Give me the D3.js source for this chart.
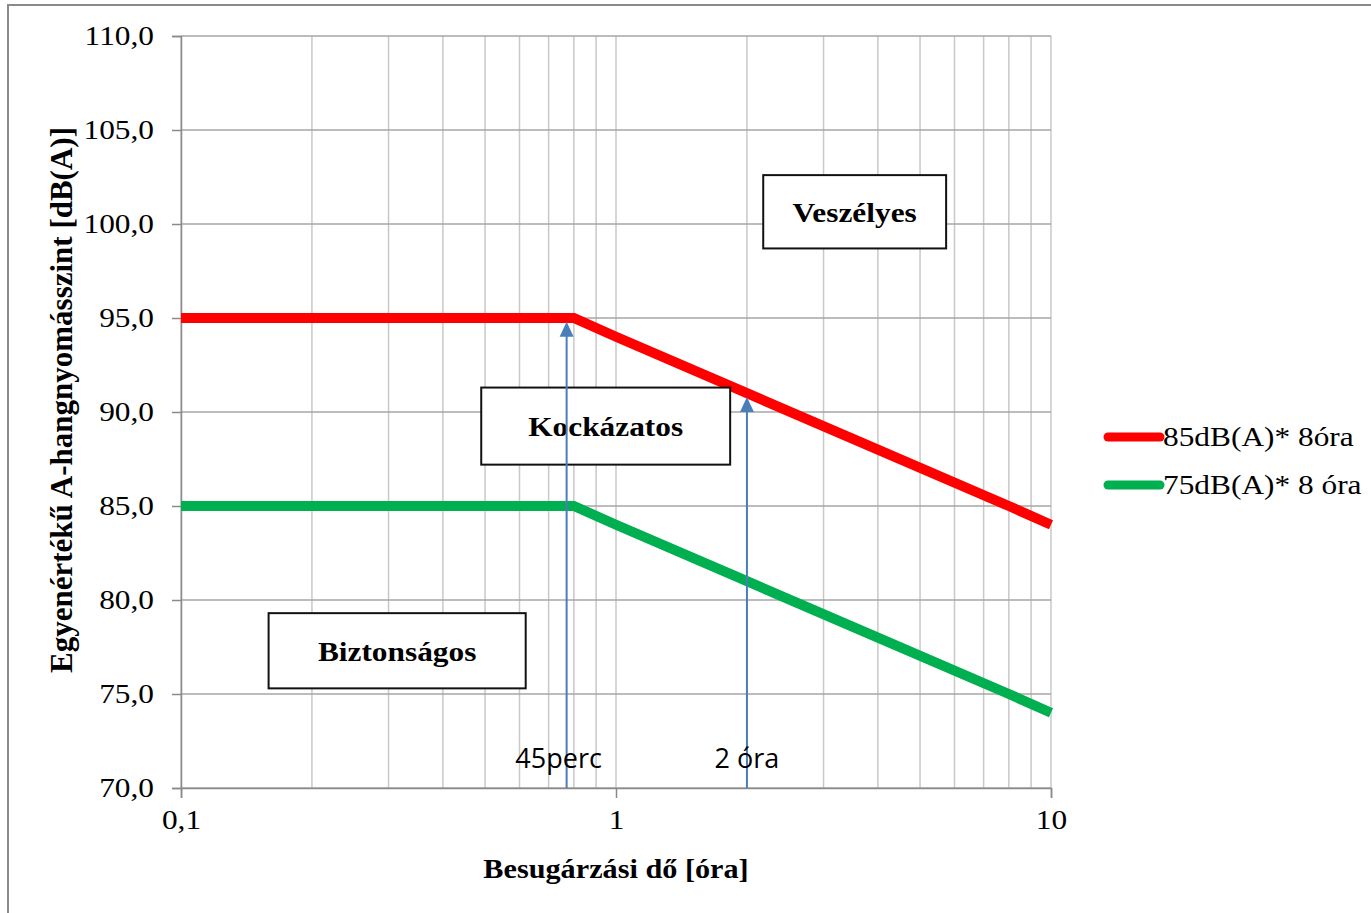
<!DOCTYPE html>
<html>
<head>
<meta charset="utf-8">
<script src="https://cdn.jsdelivr.net/npm/d3@7"></script>
<style>
  body { margin: 0; background: #fff; }
  svg { display: block; }
</style>
</head>
<body>
<div id="chart"></div>
<script>
// exposure time [hours] and equivalent level [dB(A)]
const hours = [0.1, 0.8, 1, 2, 4, 8, 10];
const level85 = [95, 95, 94, 91, 88, 85, 84];
const level75 = [85, 85, 84, 81, 78, 75, 74];
const seriesNames = ['85dB(A)* 8óra', '75dB(A)* 8 óra'];
const seriesColors = ['#ff0000', '#00b050'];

const yTicks = [70, 75, 80, 85, 90, 95, 100, 105, 110];
const xTicks = [0.1, 1, 10];
const xTickLabels = ['0,1', '1', '10'];

// marked exposure times
const markHours = [0.77, 2];
const markTops = [94.8, 90.8];
const markLabels = ['45perc', '2 óra'];

// zone labels (box corners in data units)
const zoneNames = ['Veszélyes', 'Kockázatos', 'Biztonságos'];
const zoneX0 = [2.18, 0.49, 0.159];
const zoneX1 = [5.74, 1.83, 0.62];
const zoneYTop = [102.6, 91.3, 79.3];
const zoneYBottom = [98.7, 87.2, 75.3];

const W = 1371, H = 913;
const margin = { top: 36, right: 320, bottom: 125, left: 181 };
const width = W - margin.left - margin.right;
const height = H - margin.top - margin.bottom;
const serif = '"Liberation Serif", "Times New Roman", serif';
const sx = 1.12; // source text looks slightly stretched horizontally

const svg = d3.select('#chart').append('svg')
    .attr('width', W)
    .attr('height', H);

// outer frame
svg.append('rect')
    .attr('x', 8).attr('y', 5)
    .attr('width', W + 20).attr('height', H + 20)
    .attr('fill', 'none')
    .attr('stroke', '#8a8a8a')
    .attr('stroke-width', 2);

const g = svg.append('g')
    .attr('transform', `translate(${margin.left},${margin.top})`);

const x = d3.scaleLog().domain([0.1, 10]).range([0, width]);
const y = d3.scaleLinear().domain([70, 110]).range([height, 0]);

// vertical grid (every 1..9 per decade)
const minor = [];
[0.1, 1].forEach(d => { for (let i = 1; i <= 9; i++) minor.push(d * i); });
minor.push(10);
g.append('g').selectAll('line').data(minor).join('line')
    .attr('x1', d => x(d)).attr('x2', d => x(d))
    .attr('y1', 0).attr('y2', height)
    .attr('stroke', '#c8c8c8')
    .attr('stroke-width', 1.5);

// horizontal grid
g.append('g').selectAll('line').data(yTicks).join('line')
    .attr('x1', 0).attr('x2', width)
    .attr('y1', d => y(d)).attr('y2', d => y(d))
    .attr('stroke', '#a6a6a6')
    .attr('stroke-width', 1.5);

// y axis
const yAxis = g.append('g')
    .call(d3.axisLeft(y).tickValues(yTicks).tickSize(9).tickPadding(10)
        .tickFormat(d => d3.format('.1f')(d).replace('.', ',')));
yAxis.select('.domain').attr('stroke', '#8a8a8a').attr('stroke-width', 1.5);
yAxis.selectAll('.tick line').attr('stroke', '#8a8a8a').attr('stroke-width', 1.5);
yAxis.selectAll('.tick text')
    .attr('font-family', serif)
    .attr('font-size', 28)
    .attr('fill', '#000')
    .attr('transform', `scale(${sx},1)`)
    .attr('x', -27 / sx);

// x axis
const xAxis = g.append('g')
    .attr('transform', `translate(0,${height})`)
    .call(d3.axisBottom(x).tickValues(xTicks).tickSize(10).tickPadding(11)
        .tickFormat((d, i) => xTickLabels[i]));
xAxis.select('.domain').attr('stroke', '#8a8a8a').attr('stroke-width', 1.5);
xAxis.selectAll('.tick line').attr('stroke', '#8a8a8a').attr('stroke-width', 1.5);
xAxis.selectAll('.tick text')
    .attr('font-family', serif)
    .attr('font-size', 28)
    .attr('fill', '#000')
    .attr('transform', `scale(${sx},1)`);

// series lines
const line = d3.line().x(d => x(d[0])).y(d => y(d[1]));
[level85, level75].forEach((vals, i) => {
    g.append('path')
        .datum(hours.map((h, j) => [h, vals[j]]))
        .attr('d', line)
        .attr('fill', 'none')
        .attr('stroke', seriesColors[i])
        .attr('stroke-width', 10);
});

// zone boxes
zoneNames.forEach((name, i) => {
    const bx = x(zoneX0[i]), bw = x(zoneX1[i]) - bx;
    const by = y(zoneYTop[i]), bh = y(zoneYBottom[i]) - by;
    g.append('rect')
        .attr('x', bx).attr('y', by)
        .attr('width', bw).attr('height', bh)
        .attr('fill', '#fff')
        .attr('stroke', '#111')
        .attr('stroke-width', 2);
    g.append('text')
        .attr('transform', `translate(${bx + bw / 2},${by + bh / 2 + 10}) scale(${sx},1)`)
        .attr('text-anchor', 'middle')
        .attr('font-family', serif)
        .attr('font-weight', 'bold')
        .attr('font-size', 28)
        .text(name);
});

// arrows
const arrowColor = '#4a7ebb';
markHours.forEach((h, i) => {
    const ax = x(h), ay = y(markTops[i]);
    g.append('line')
        .attr('x1', ax).attr('x2', ax)
        .attr('y1', height).attr('y2', ay + 12)
        .attr('stroke', arrowColor)
        .attr('stroke-width', 2);
    g.append('path')
        .attr('d', `M${ax},${ay} L${ax - 7},${ay + 15} L${ax + 7},${ay + 15} Z`)
        .attr('fill', arrowColor);
    g.append('text')
        .attr('x', ax - (i === 0 ? 8 : 0))
        .attr('y', height - 20)
        .attr('text-anchor', 'middle')
        .attr('font-family', '"Open Sans", Lato, sans-serif')
        .attr('font-size', 27)
        .attr('fill', '#000')
        .text(markLabels[i]);
});

// axis titles
g.append('text')
    .attr('transform', `translate(${width / 2},${height + 90}) scale(${sx},1)`)
    .attr('text-anchor', 'middle')
    .attr('font-family', serif)
    .attr('font-weight', 'bold')
    .attr('font-size', 27)
    .text('Besugárzási dő [óra]');

g.append('text')
    .attr('transform', `translate(${-109},${height / 2 - 12}) rotate(-90)`)
    .attr('text-anchor', 'middle')
    .attr('font-family', serif)
    .attr('font-weight', 'bold')
    .attr('font-size', 31)
    .text('Egyenértékű A-hangnyomásszint [dB(A)]');

// legend
const legend = svg.append('g').attr('transform', 'translate(1108,437)');
seriesNames.forEach((name, i) => {
    const row = legend.append('g').attr('transform', `translate(0,${i * 48})`);
    row.append('line')
        .attr('x1', 0).attr('x2', 52)
        .attr('stroke', seriesColors[i])
        .attr('stroke-width', 9)
        .attr('stroke-linecap', 'round');
    row.append('text')
        .attr('transform', `translate(55,9) scale(${sx},1)`)
        .attr('font-family', serif)
        .attr('font-size', 28)
        .text(name);
});
</script>
</body>
</html>
